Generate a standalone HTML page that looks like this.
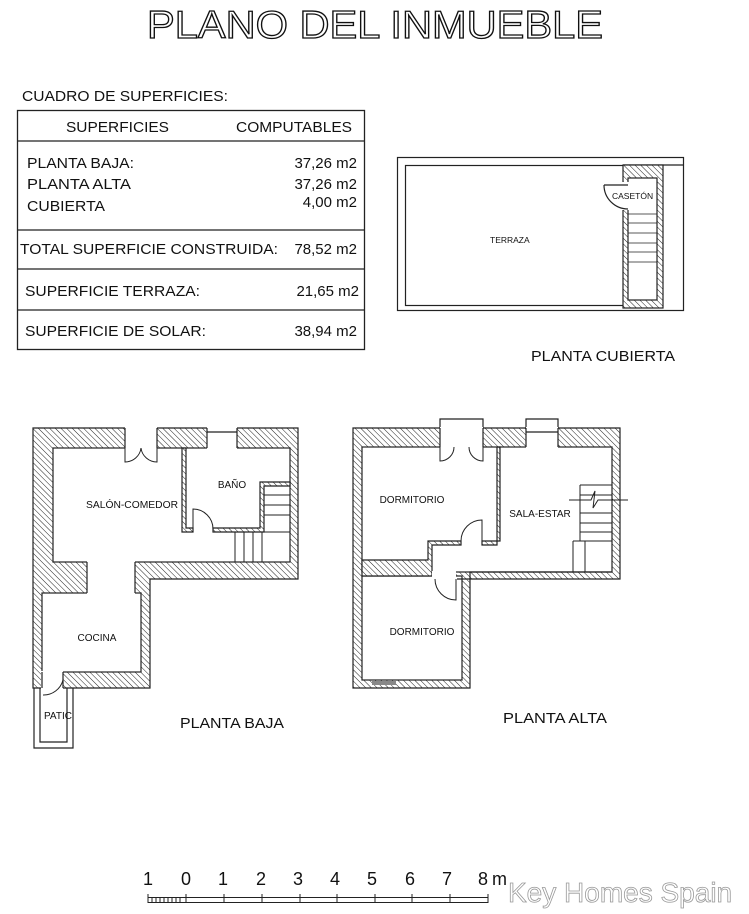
<!DOCTYPE html>
<html><head><meta charset="utf-8"><style>
html,body{margin:0;padding:0;background:#fff}
svg{display:block}
text{font-family:"Liberation Sans",sans-serif;fill:#111}
</style></head><body>
<svg width="749" height="914" viewBox="0 0 749 914" xmlns="http://www.w3.org/2000/svg">
<defs>
<pattern id="h" width="4" height="4" patternUnits="userSpaceOnUse" patternTransform="rotate(-45)">
<rect width="4" height="4" fill="#fff"/><line x1="0" y1="0" x2="0" y2="4" stroke="#222" stroke-width="1"/>
</pattern>
</defs>
<text x="375" y="38" font-size="39" text-anchor="middle" textLength="456" lengthAdjust="spacingAndGlyphs" style="fill:#fff;stroke:#111;stroke-width:1.3">PLANO DEL INMUEBLE</text>

<!-- table -->
<text x="22" y="101" font-size="15" textLength="206" lengthAdjust="spacingAndGlyphs">CUADRO DE SUPERFICIES:</text>
<g fill="none" stroke="#222" stroke-width="1.3">
<rect x="17.5" y="110.5" width="347" height="239"/>
<line x1="17" y1="141" x2="364" y2="141"/>
<line x1="17" y1="230" x2="364" y2="230"/>
<line x1="17" y1="269" x2="364" y2="269"/>
<line x1="17" y1="310" x2="364" y2="310"/>
</g>
<g font-size="15">
<text x="66" y="132" textLength="103" lengthAdjust="spacingAndGlyphs">SUPERFICIES</text>
<text x="236" y="132" textLength="116" lengthAdjust="spacingAndGlyphs">COMPUTABLES</text>
<text x="27" y="168" textLength="107" lengthAdjust="spacingAndGlyphs">PLANTA BAJA:</text><text x="357" y="168" text-anchor="end">37,26 m2</text>
<text x="27" y="189" textLength="104" lengthAdjust="spacingAndGlyphs">PLANTA ALTA</text><text x="357" y="189" text-anchor="end">37,26 m2</text>
<text x="27" y="211" textLength="78" lengthAdjust="spacingAndGlyphs">CUBIERTA</text><text x="357" y="207" text-anchor="end">4,00 m2</text>
<text x="20" y="254" textLength="258" lengthAdjust="spacingAndGlyphs">TOTAL SUPERFICIE CONSTRUIDA:</text><text x="357" y="254" text-anchor="end">78,52 m2</text>
<text x="25" y="296" textLength="175" lengthAdjust="spacingAndGlyphs">SUPERFICIE TERRAZA:</text><text x="359" y="296" text-anchor="end">21,65 m2</text>
<text x="25" y="336" textLength="181" lengthAdjust="spacingAndGlyphs">SUPERFICIE DE SOLAR:</text><text x="357" y="336" text-anchor="end">38,94 m2</text>
</g>

<!-- planta cubierta -->
<g stroke="#222" stroke-width="1.2" fill="none">
<rect x="397.5" y="157.5" width="286" height="153"/>
<rect x="405.5" y="165.5" width="218" height="140" fill="#fff"/>
<line x1="623" y1="165" x2="684" y2="165"/>
<rect x="623" y="165" width="40" height="143" fill="url(#h)"/>
<rect x="628" y="178" width="29" height="122" fill="#fff"/>
<rect x="622" y="182" width="7" height="28" fill="#fff" stroke="none"/>
<line x1="604" y1="185" x2="628" y2="185"/>
<path d="M604 185 A24 24 0 0 0 628 209"/>
<g stroke-width="0.8"><line x1="628" y1="214" x2="657" y2="214"/><line x1="628" y1="223" x2="657" y2="223"/><line x1="628" y1="233" x2="657" y2="233"/><line x1="628" y1="243" x2="657" y2="243"/><line x1="628" y1="252" x2="657" y2="252"/><line x1="628" y1="262" x2="657" y2="262"/></g>
</g>
<text x="612" y="199" font-size="8.5">CASETÓN</text>
<text x="490" y="243" font-size="8.5">TERRAZA</text>
<text x="531" y="361" font-size="15" textLength="144" lengthAdjust="spacingAndGlyphs">PLANTA CUBIERTA</text>

<!-- planta baja -->
<g stroke="#222" stroke-width="1.2">
<path d="M33 428 H298 V579 H150 V688 H33 Z" fill="url(#h)"/>
<rect x="53" y="448" width="237" height="114" fill="#fff"/>
<rect x="42" y="593" width="99" height="79" fill="#fff"/>
<rect x="87" y="561" width="48" height="33" fill="#fff" stroke="none"/>
<line x1="87" y1="562" x2="87" y2="593"/><line x1="135" y1="562" x2="135" y2="593"/>
<rect x="125" y="427" width="32" height="22" fill="#fff" stroke="none"/>
<line x1="125" y1="428" x2="125" y2="448"/><line x1="157" y1="428" x2="157" y2="448"/>
<rect x="207" y="427" width="30" height="22" fill="#fff" stroke="none"/>
<line x1="207" y1="428" x2="207" y2="448"/><line x1="237" y1="428" x2="237" y2="448"/><line x1="207" y1="432" x2="237" y2="432"/>
<path d="M182 448 V532 H193 V528 H186 V448 Z" fill="url(#h)"/>
<path d="M213 532 H264 V486 H290 V482 H260 V528 H213 Z" fill="url(#h)"/>
<rect x="41" y="671" width="22" height="18" fill="#fff" stroke="none"/>
<line x1="42" y1="672" x2="42" y2="688"/><line x1="63" y1="672" x2="63" y2="688"/>
<path d="M34 688 V748 H73 V688 M40 688 V742 H67 V688" fill="none"/>
</g>
<g stroke="#222" stroke-width="1" fill="none">
<path d="M125 448 V462 A16 16 0 0 0 141 448 M157 448 V462 A16 16 0 0 1 141 448"/>
<path d="M193 532 V509 A20 20 0 0 1 213 529"/>
<path d="M63 672 V680 A20 20 0 0 1 43 695"/>
<line x1="264" y1="495" x2="290" y2="495"/><line x1="264" y1="505" x2="290" y2="505"/><line x1="264" y1="515" x2="290" y2="515"/>
<line x1="235" y1="532" x2="290" y2="532"/>
<line x1="235" y1="532" x2="235" y2="562"/><line x1="244" y1="532" x2="244" y2="562"/><line x1="253" y1="532" x2="253" y2="562"/><line x1="262" y1="532" x2="262" y2="562"/>
</g>
<text x="132" y="508" font-size="10" text-anchor="middle" textLength="92" lengthAdjust="spacingAndGlyphs">SALÓN-COMEDOR</text>
<text x="232" y="488" font-size="10" text-anchor="middle">BAÑO</text>
<text x="97" y="641" font-size="10" text-anchor="middle">COCINA</text>
<text x="44" y="719" font-size="10">PATIC</text>
<text x="180" y="728" font-size="15" textLength="104" lengthAdjust="spacingAndGlyphs">PLANTA BAJA</text>

<!-- planta alta -->
<g stroke="#222" stroke-width="1.2">
<path d="M353 428 H620 V579 H470 V688 H353 Z" fill="url(#h)"/>
<rect x="362" y="447" width="250" height="125" fill="#fff"/>
<rect x="362" y="576" width="100" height="104" fill="#fff"/>
<path d="M497 447 V545 H482 V541 H500 V447 Z" fill="url(#h)"/>
<path d="M362 560 H428 V541 H461 V545 H432 V576 H362 Z" fill="url(#h)"/>
<path d="M457 579 H470 V572 H612" fill="none"/>
<rect x="432" y="571" width="24" height="6" fill="#fff" stroke="none"/>
<path d="M440 428 V419 H483 V428 M526 428 V419 H558 V428" fill="#fff"/>
<rect x="440" y="427" width="43" height="21" fill="#fff" stroke="none"/>
<line x1="440" y1="428" x2="440" y2="447"/><line x1="483" y1="428" x2="483" y2="447"/>
<rect x="526" y="427" width="32" height="21" fill="#fff" stroke="none"/>
<line x1="526" y1="428" x2="526" y2="447"/><line x1="558" y1="428" x2="558" y2="447"/><line x1="526" y1="432" x2="558" y2="432"/>
</g>
<g stroke="#222" stroke-width="1" fill="none">
<path d="M440 447 V461 A14 14 0 0 0 454 447 M483 447 V461 A14 14 0 0 1 469 447"/>
<path d="M482 541 V520 A21 21 0 0 0 461 541"/>
<path d="M456 579 V600 A21 21 0 0 1 435 579"/>
<path d="M580 485 H612 M580 485 V541 M573 541 H612 M573 541 V572 M585 541 V572"/>
<line x1="580" y1="495" x2="612" y2="495"/><line x1="580" y1="513" x2="612" y2="513"/><line x1="580" y1="523" x2="612" y2="523"/><line x1="580" y1="532" x2="612" y2="532"/>
<path d="M569 500 H591 L595 491 L593 508 L598 500 H628"/>
</g>
<rect x="372" y="681" width="24" height="4" fill="#888"/>
<text x="412" y="503" font-size="10" text-anchor="middle">DORMITORIO</text>
<text x="540" y="517" font-size="10" text-anchor="middle">SALA-ESTAR</text>
<text x="422" y="635" font-size="10" text-anchor="middle">DORMITORIO</text>
<text x="503" y="723" font-size="15" textLength="104" lengthAdjust="spacingAndGlyphs">PLANTA ALTA</text>

<!-- scale -->
<g font-size="18">
<text x="143" y="885">1</text><text x="181" y="885">0</text><text x="218" y="885">1</text><text x="256" y="885">2</text><text x="293" y="885">3</text><text x="330" y="885">4</text><text x="367" y="885">5</text><text x="405" y="885">6</text><text x="442" y="885">7</text><text x="478" y="885">8</text><text x="492" y="885">m</text>
</g>
<g stroke="#222" stroke-width="1" fill="none">
<rect x="148" y="897.5" width="340" height="5"/>
<path d="M186 894 V903 M224 894 V903 M262 894 V903 M300 894 V903 M337 894 V903 M375 894 V903 M412 894 V903 M450 894 V903 M488 894 V903 M148 894 V903"/>
<path d="M152 897 V903 M156 897 V903 M160 897 V903 M164 897 V903 M168 897 V903 M172 897 V903 M176 897 V903 M180 897 V903"/>
</g>
<text x="508" y="902" font-size="28" style="fill:#fff;stroke:#999;stroke-width:0.8">Key Homes Spain</text>
</svg>
</body></html>
